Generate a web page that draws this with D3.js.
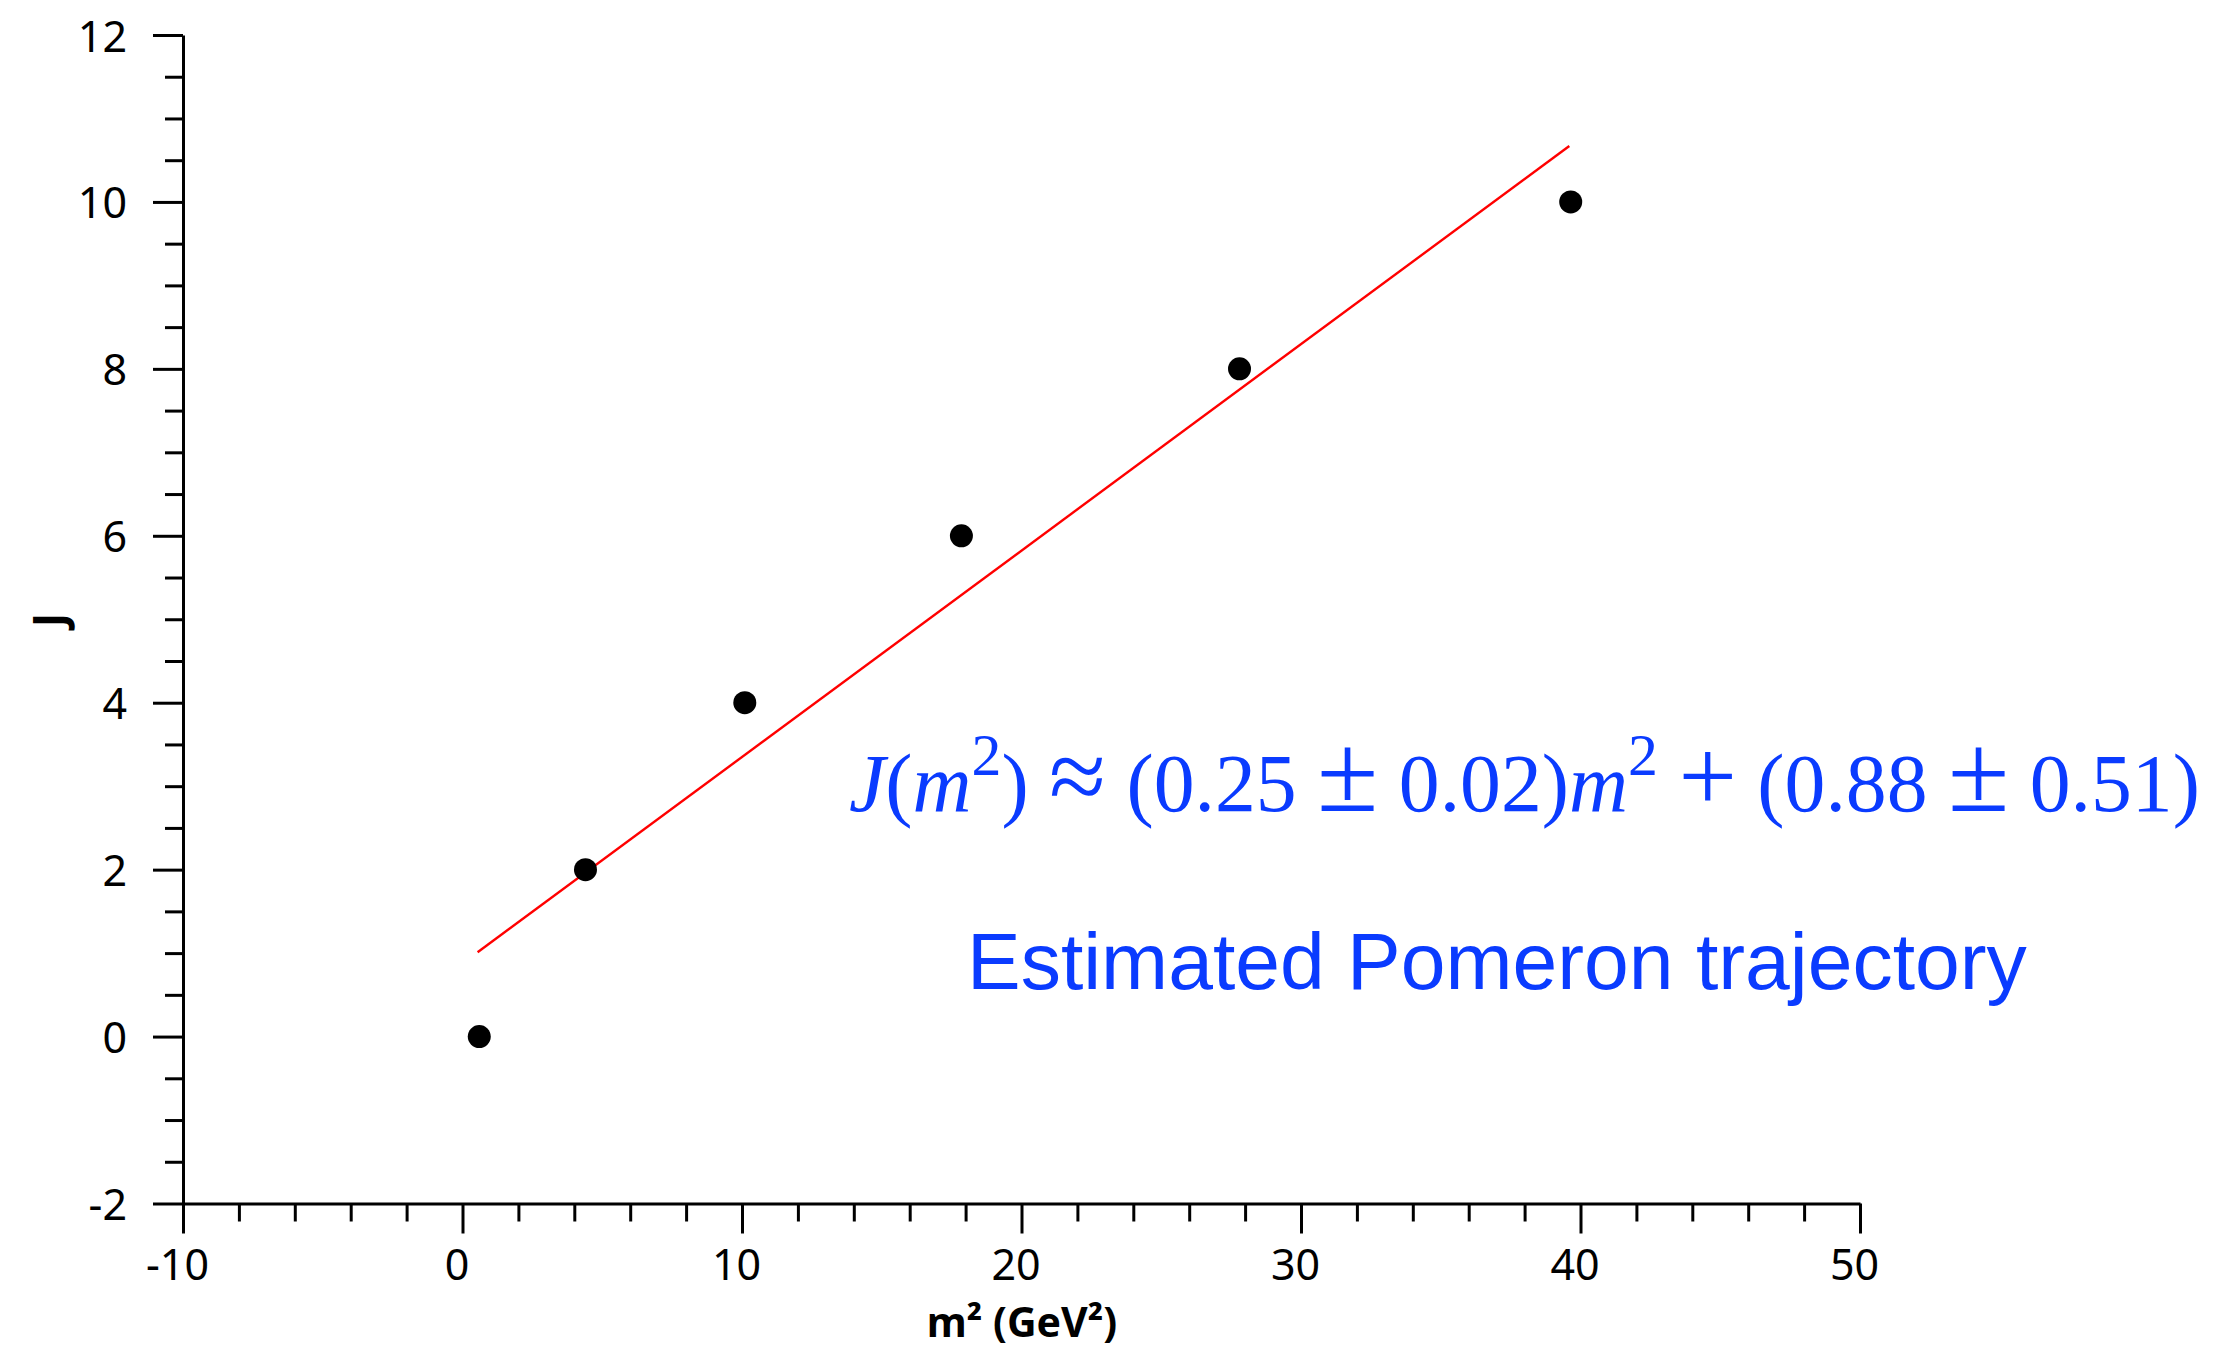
<!DOCTYPE html>
<html>
<head>
<meta charset="utf-8">
<script src="https://cdn.jsdelivr.net/npm/d3@7"></script>
<style>
  html, body { margin: 0; padding: 0; background: #fff; }
  svg { display: block; }
</style>
</head>
<body>
<svg id="chart" width="2214" height="1349"></svg>
<script>
// ---- data ----
const m2Values = [0.6, 4.4, 10.1, 17.85, 27.8, 39.65];
const jValues = [0, 2, 4, 6, 8, 10];
const fitX = [0.54, 39.6];
const fitY = [1.01, 10.67];
const xMajorTicks = [-10, 0, 10, 20, 30, 40, 50];
const yMajorTicks = [-2, 0, 2, 4, 6, 8, 10, 12];
const xTitle = "m² (GeV²)";
const yTitle = "J";
const noteLabel = "Estimated Pomeron trajectory";

// ---- layout ----
const plotLeft = 183, plotRight = 1860, plotTop = 35, plotBottom = 1203.5;
const tickFont = "'Noto Sans', 'Open Sans', sans-serif";
const blue = "#0a3bff";
const fmt = d => String(d);

const svg = d3.select("#chart");
const x = d3.scaleLinear().domain([-10, 50]).range([plotLeft, plotRight]);
const y = d3.scaleLinear().domain([-2, 12]).range([plotBottom, plotTop]);

const xMinor = d3.range(-10, 50.001, 2).filter(v => !xMajorTicks.includes(v));
const yMinor = d3.range(-2, 12.001, 0.5).filter(v => !yMajorTicks.includes(v));

// minor ticks
svg.append("g").attr("transform", `translate(0,${plotBottom})`)
  .call(d3.axisBottom(x).tickValues(xMinor).tickSize(18).tickSizeOuter(0).tickFormat(""))
  .call(g => g.select(".domain").remove())
  .call(g => g.selectAll("line").attr("stroke", "#000").attr("stroke-width", 3));
svg.append("g").attr("transform", `translate(${plotLeft},0)`)
  .call(d3.axisLeft(y).tickValues(yMinor).tickSize(18).tickSizeOuter(0).tickFormat(""))
  .call(g => g.select(".domain").remove())
  .call(g => g.selectAll("line").attr("stroke", "#000").attr("stroke-width", 3));

// major x axis
svg.append("g").attr("transform", `translate(0,${plotBottom})`)
  .call(d3.axisBottom(x).tickValues(xMajorTicks).tickSize(30).tickSizeOuter(0).tickFormat(fmt))
  .call(g => g.select(".domain").attr("stroke", "#000").attr("stroke-width", 3))
  .call(g => g.selectAll("line").attr("stroke", "#000").attr("stroke-width", 3))
  .call(g => g.selectAll("text")
    .attr("font-family", tickFont).attr("font-size", 43).attr("fill", "#000")
    .attr("dy", null).attr("y", 76).attr("x", -6));

// major y axis
svg.append("g").attr("transform", `translate(${plotLeft},0)`)
  .call(d3.axisLeft(y).tickValues(yMajorTicks).tickSize(30).tickSizeOuter(0).tickFormat(fmt))
  .call(g => g.select(".domain").attr("stroke", "#000").attr("stroke-width", 3))
  .call(g => g.selectAll("line").attr("stroke", "#000").attr("stroke-width", 3))
  .call(g => g.selectAll("text")
    .attr("font-family", tickFont).attr("font-size", 43).attr("fill", "#000")
    .attr("dy", null).attr("y", 16).attr("x", -56));

// axis titles
svg.append("text")
  .attr("x", 1022).attr("y", 1337)
  .attr("text-anchor", "middle")
  .attr("font-family", tickFont).attr("font-weight", "bold").attr("font-size", 41)
  .attr("fill", "#000")
  .text(xTitle);
svg.append("text")
  .attr("transform", "translate(65,620) rotate(-90)")
  .attr("text-anchor", "middle")
  .attr("font-family", tickFont).attr("font-weight", "bold").attr("font-size", 44)
  .attr("fill", "#000")
  .text(yTitle);

// fit line
svg.append("line")
  .attr("x1", x(fitX[0])).attr("y1", y(fitY[0]))
  .attr("x2", x(fitX[1])).attr("y2", y(fitY[1]))
  .attr("stroke", "#ff0000").attr("stroke-width", 2.4);

// data points
svg.append("g").selectAll("circle")
  .data(m2Values.map((v, i) => [v, jValues[i]]))
  .join("circle")
  .attr("cx", d => x(d[0])).attr("cy", d => y(d[1]))
  .attr("r", 11.5).attr("fill", "#000");

// fit a text element horizontally to a target width
function fitWidth(sel, x0, targetW) {
  const bb = sel.node().getBBox();
  const s = targetW / bb.width;
  const yb = +sel.attr("y");
  sel.attr("x", 0).attr("y", 0)
     .attr("transform", `translate(${x0 - bb.x * s},${yb}) scale(${s},1)`);
}

// equation: [text, style, size, baseline shift]
const eq = svg.append("text")
  .attr("x", 0).attr("y", 811)
  .attr("font-family", "'Liberation Serif', 'Times New Roman', serif")
  .attr("font-size", 82).attr("fill", blue);
const parts = [
  ["J", "italic", 82, 0], ["(", "normal", 82, 0], ["m", "italic", 82, 0], ["2", "normal", 60, -36],
  [") ", "normal", 82, 0], ["\u2248", "normal", 104, 0], [" (0.25 ", "normal", 82, 0],
  ["\u00b1", "normal", 112, 0], [" 0.02)", "normal", 82, 0],
  ["m", "italic", 82, 0], ["2", "normal", 60, -36], [" ", "normal", 82, 0],
  ["+", "normal", 104, 0], [" (0.88 ", "normal", 82, 0],
  ["\u00b1", "normal", 112, 0], [" 0.51)", "normal", 82, 0]
];
let shift = 0;
parts.forEach(([t, st, fs, bs]) => {
  const ts = eq.append("tspan").attr("font-style", st).attr("font-size", fs).text(t);
  if (bs !== shift) { ts.attr("dy", bs - shift); shift = bs; }
});
fitWidth(eq, 849, 1351);

// label
const lab = svg.append("text")
  .attr("x", 0).attr("y", 989)
  .attr("font-family", "'Liberation Sans', Arial, sans-serif")
  .attr("font-size", 80).attr("fill", blue)
  .text(noteLabel);
fitWidth(lab, 967, 1060);
</script>
</body>
</html>
